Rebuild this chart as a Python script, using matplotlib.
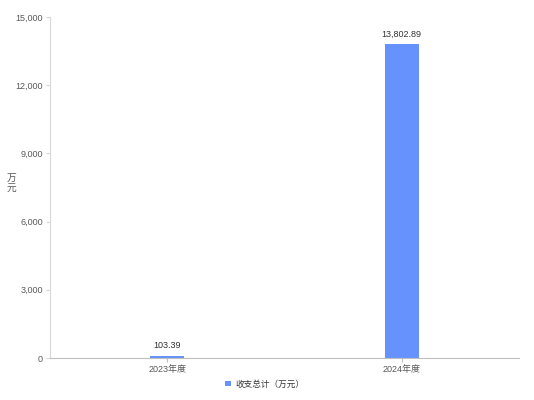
import matplotlib
matplotlib.use("Agg")
from matplotlib import pyplot as plt
from matplotlib.ticker import FuncFormatter
import numpy as np

plt.rcParams['font.family'] = ['Liberation Sans', 'Noto Sans CJK SC', 'DejaVu Sans']

categories = ["2023年度", "2024年度"]
values = [103.39, 13802.89]
series_name = "收支总计（万元）"
y_ticks = [0, 3000, 6000, 9000, 12000, 15000]

bar_color = "#6592fd"
text_color = "#595959"
axis_color = "#d9d9d9"

fig = plt.figure(figsize=(5.34, 4), dpi=100)
ax = fig.add_axes([0.0936, 0.105, 0.878, 0.8525])

x = np.arange(len(categories))
bars = ax.bar(x, values, width=0.145, color=bar_color, label=series_name, zorder=2)
for xi, v in zip(x, values):
    ax.text(xi, v + 250, f"{v:,.2f}", ha="center", va="bottom", fontsize=6.5, color="#333333")

ax.set_xlim(-0.5, 1.5)
ax.set_ylim(0, 15000)
ax.set_xticks(x)
ax.set_xticklabels(categories)
ax.set_yticks(y_ticks)
ax.yaxis.set_major_formatter(FuncFormatter(lambda v, p: f"{v:,.0f}"))

for s in ["top", "right"]:
    ax.spines[s].set_visible(False)
ax.spines["left"].set_color(axis_color)
ax.spines["bottom"].set_color("#bfbfbf")
ax.tick_params(axis="y", length=3, color=axis_color, labelsize=6.5, labelcolor=text_color, pad=2)
ax.tick_params(axis="x", length=3, color="#bfbfbf", labelsize=6.5, labelcolor=text_color, pad=2)

fig.text(0.022, 0.542, "万\n元", ha="center", va="center", fontsize=7, color=text_color, linespacing=1.0)

ax.legend(loc="upper center", bbox_to_anchor=(0.458, -0.04), frameon=False, fontsize=6.2,
          handlelength=0.6, handleheight=0.6, handletextpad=0.5, labelcolor="#333333")

fig.savefig("out.png", dpi=100)
